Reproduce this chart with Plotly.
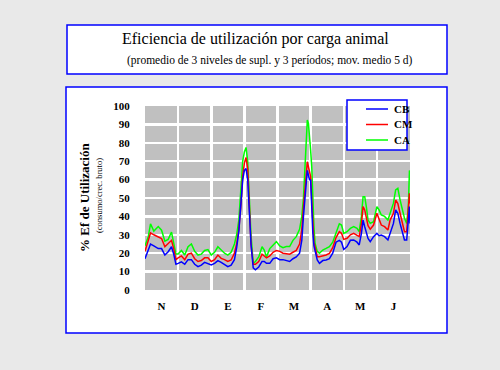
import plotly.graph_objects as go

# day index from start of November (30-day months)
day = [0, 3, 5, 8, 12, 15, 18, 21, 24, 26, 28, 30, 33, 36, 39, 42, 45, 48, 51, 54,
       57, 60, 63, 66, 69, 72, 75, 78, 81, 83, 85, 87, 88.5, 90, 91.5, 93, 94.5, 96,
       98, 100, 103, 106, 108, 110, 113, 116, 119, 122, 125, 128, 131, 134, 137, 140,
       142, 143.5, 145, 146, 147, 148, 149, 150, 151, 152, 153, 154, 156, 158, 161,
       164, 167, 170, 173, 176, 178, 180, 183, 186, 189, 192, 194, 196, 197.5, 199,
       200.5, 202, 204, 207, 210, 212, 214, 217, 220, 222, 225, 227, 229, 231, 233,
       235, 237, 238.5, 239.5, 240]

ca = [24, 29, 36, 32, 34.5, 32.5, 26.5, 27.5, 31.5, 25.5, 19.5, 19.5, 21.5, 19, 23.5,
      25, 21, 19, 19.5, 21.5, 22, 19, 20.5, 23.5, 21.5, 20, 19, 20.5, 25, 30, 38, 55,
      70, 75, 77.5, 70, 50, 30, 14.5, 15.5, 18, 23.5, 21.7, 18, 22.5, 24.5, 26.3, 24,
      23, 23.6, 23.6, 27, 29, 33, 40, 50, 68, 87, 92.4, 90.5, 85, 76, 67, 49, 34.4,
      25.4, 21, 20, 21.7, 22.6, 23.6, 26, 30.5, 36, 35.3, 30.8, 31.7, 33.5, 34.4, 33.5,
      31.7, 40, 50.7, 50.7, 45, 38, 36.2, 37.1, 45.3, 43.5, 40.8, 40, 38, 41.7, 47.2,
      54.4, 55.3, 49, 43.5, 39, 36.2, 45.3, 65, 59.8]

cm = [21, 27, 31, 30, 29, 28, 23.5, 25.4, 27, 22.5, 16.5, 17.5, 18.5, 16.5, 19.5, 20,
      17, 15.5, 16, 17.5, 17.5, 15.5, 16.5, 19, 17.2, 16.5, 15.5, 16.3, 20, 25, 33, 47,
      62, 69, 72, 66, 45, 25, 14, 14, 15.5, 19.5, 18.5, 17.5, 18.5, 20.5, 21.5, 21, 20,
      19.7, 19.5, 20.5, 21.5, 25, 33, 45, 57, 63, 69.7, 67, 64, 61.6, 48.9, 33, 26,
      23.6, 18.1, 18.1, 18.5, 19, 19.9, 23, 28.5, 31.7, 30.8, 27.5, 28.1, 30, 30.8,
      29.9, 29, 36, 45.3, 43.5, 38, 35, 33, 35.3, 41.7, 39, 35.3, 34.4, 32.6, 38, 41.7,
      48.9, 47, 41.7, 36.2, 31.7, 31.7, 41.7, 52.6, 47]

cb = [17, 22, 25, 24, 22.5, 22.5, 19, 20.8, 23.5, 19.5, 14, 14.5, 15.3, 14, 16.5,
      16.5, 14, 12.7, 13.5, 15, 14.5, 13.6, 14.5, 16, 15, 14, 12.7, 13.5, 16.5, 23, 32,
      48, 60, 65, 66, 60, 44, 25, 12, 11, 12.5, 15.5, 15.5, 14.5, 14.5, 17, 17.5, 16.5,
      16.5, 16, 15.5, 17, 18, 20, 27, 40, 52, 58, 65, 62.5, 60, 59.8, 43.5, 31, 24,
      21.7, 16.3, 14.5, 16, 16.3, 17, 20, 26, 27, 26, 22, 23.6, 27, 27.2, 26, 24.5,
      30.8, 38, 34.4, 31, 28, 26.3, 29, 30.8, 29.5, 29.9, 29, 27.2, 30.8, 36.2, 43.5,
      41.7, 36.2, 30.8, 27.2, 27.2, 36.2, 45.3, 36.2]

series_names = ["CB", "CM", "CA"]
series_colors = ["#0000ff", "#ff0000", "#00ff00"]

month_pos = [15, 45, 75, 105, 135, 165, 195, 225]
month_lbl = ["N", "D", "E", "F", "M", "A", "M", "J"]
y_ticks = [0, 10, 20, 30, 40, 50, 60, 70, 80, 90, 100]

SERIF = "Liberation Serif, Times New Roman, serif"

fig = go.Figure()
# draw CA first so CB sits on top
for name, vals, col in [("CA", ca, "#00ff00"), ("CM", cm, "#ff0000"), ("CB", cb, "#0000ff")]:
    fig.add_trace(go.Scatter(x=day, y=vals, name=name, mode="lines",
                             line=dict(color=col, width=1.5), showlegend=False,
                             hoverinfo="skip"))

W, H = 500, 370
L, R, T, B = 145, 90, 106, 80
pw, ph = W - L - R, H - T - B


def px(x):
    return (x - L) / pw


def py(y):
    return (H - B - y) / ph


shapes = [
    # main white panel
    dict(type="rect", xref="paper", yref="paper", layer="below",
         x0=px(66), x1=px(447), y0=py(333), y1=py(87),
         fillcolor="white", line=dict(color="#0000ff", width=1.5)),
    # title box
    dict(type="rect", xref="paper", yref="paper", layer="below",
         x0=px(67), x1=px(447), y0=py(74), y1=py(25),
         fillcolor="white", line=dict(color="#0000ff", width=1.5)),
    # grey plot area
    dict(type="rect", xref="paper", yref="paper", layer="below",
         x0=0, x1=1, y0=0, y1=1, fillcolor="#c0c0c0", line=dict(width=0)),
    # legend box
    dict(type="rect", xref="paper", yref="paper", layer="above",
         x0=px(347), x1=px(407), y0=py(150), y1=py(100),
         fillcolor="white", line=dict(color="#0000ff", width=1.5)),
]

annotations = [
    dict(text="Eficiencia de utilización por carga animal", xref="paper", yref="paper",
         x=px(255), y=py(39), xanchor="center", yanchor="middle", showarrow=False,
         font=dict(family=SERIF, size=16, color="black")),
    dict(text="(promedio de 3 niveles de supl. y 3 períodos; mov. medio 5 d)",
         xref="paper", yref="paper", x=px(270), y=py(61), xanchor="center",
         yanchor="middle", showarrow=False,
         font=dict(family=SERIF, size=11.5, color="black")),
    dict(text="<b>% Ef de Utilización</b>", xref="paper", yref="paper",
         x=px(84), y=py(198), xanchor="center", yanchor="middle", textangle=-90,
         showarrow=False, font=dict(family=SERIF, size=13, color="black")),
    dict(text="(consumo/crec. bruto)", xref="paper", yref="paper",
         x=px(99), y=py(196), xanchor="center", yanchor="middle", textangle=-90,
         showarrow=False, font=dict(family=SERIF, size=8.5, color="black")),
]

# hand-drawn legend entries
for i, (name, col) in enumerate(zip(series_names, series_colors)):
    yy = 109 + i * 15.5
    shapes.append(dict(type="line", xref="paper", yref="paper", layer="above",
                       x0=px(366), x1=px(388), y0=py(yy), y1=py(yy),
                       line=dict(color=col, width=1.5)))
    annotations.append(dict(text="<b>" + name + "</b>", xref="paper", yref="paper",
                            x=px(392), y=py(yy), xanchor="left", yanchor="middle",
                            showarrow=False,
                            font=dict(family=SERIF, size=11, color="black")))

fig.update_layout(
    width=W, height=H,
    margin=dict(l=L, r=R, t=T, b=B),
    paper_bgcolor="#e9e9e9",
    plot_bgcolor="#c0c0c0",
    shapes=shapes,
    annotations=annotations,
    showlegend=False,
    hovermode=False,
    xaxis=dict(range=[0, 240], tickmode="array", tickvals=month_pos,
               ticktext=month_lbl, showgrid=False, zeroline=False,
               ticks="outside", ticklen=6, tickcolor="rgba(0,0,0,0)",
               tickfont=dict(family=SERIF, size=11, color="black", weight="bold"),
               minor=dict(tick0=0, dtick=30, showgrid=True, gridcolor="white",
                          gridwidth=2.5, ticks=""),
               showline=False, fixedrange=True),
    yaxis=dict(range=[0, 100], tickmode="array", tickvals=y_ticks,
               showgrid=True, gridcolor="white", gridwidth=2.5, zeroline=False,
               ticks="outside", ticklen=12, tickcolor="rgba(0,0,0,0)",
               tickfont=dict(family=SERIF, size=11, color="black", weight="bold"),
               showline=False, fixedrange=True),
)

fig.write_html("out.html",
               config={"displayModeBar": False, "staticPlot": True},
               post_script="document.body.style.margin='0';"
                           "document.body.style.overflow='hidden';")
